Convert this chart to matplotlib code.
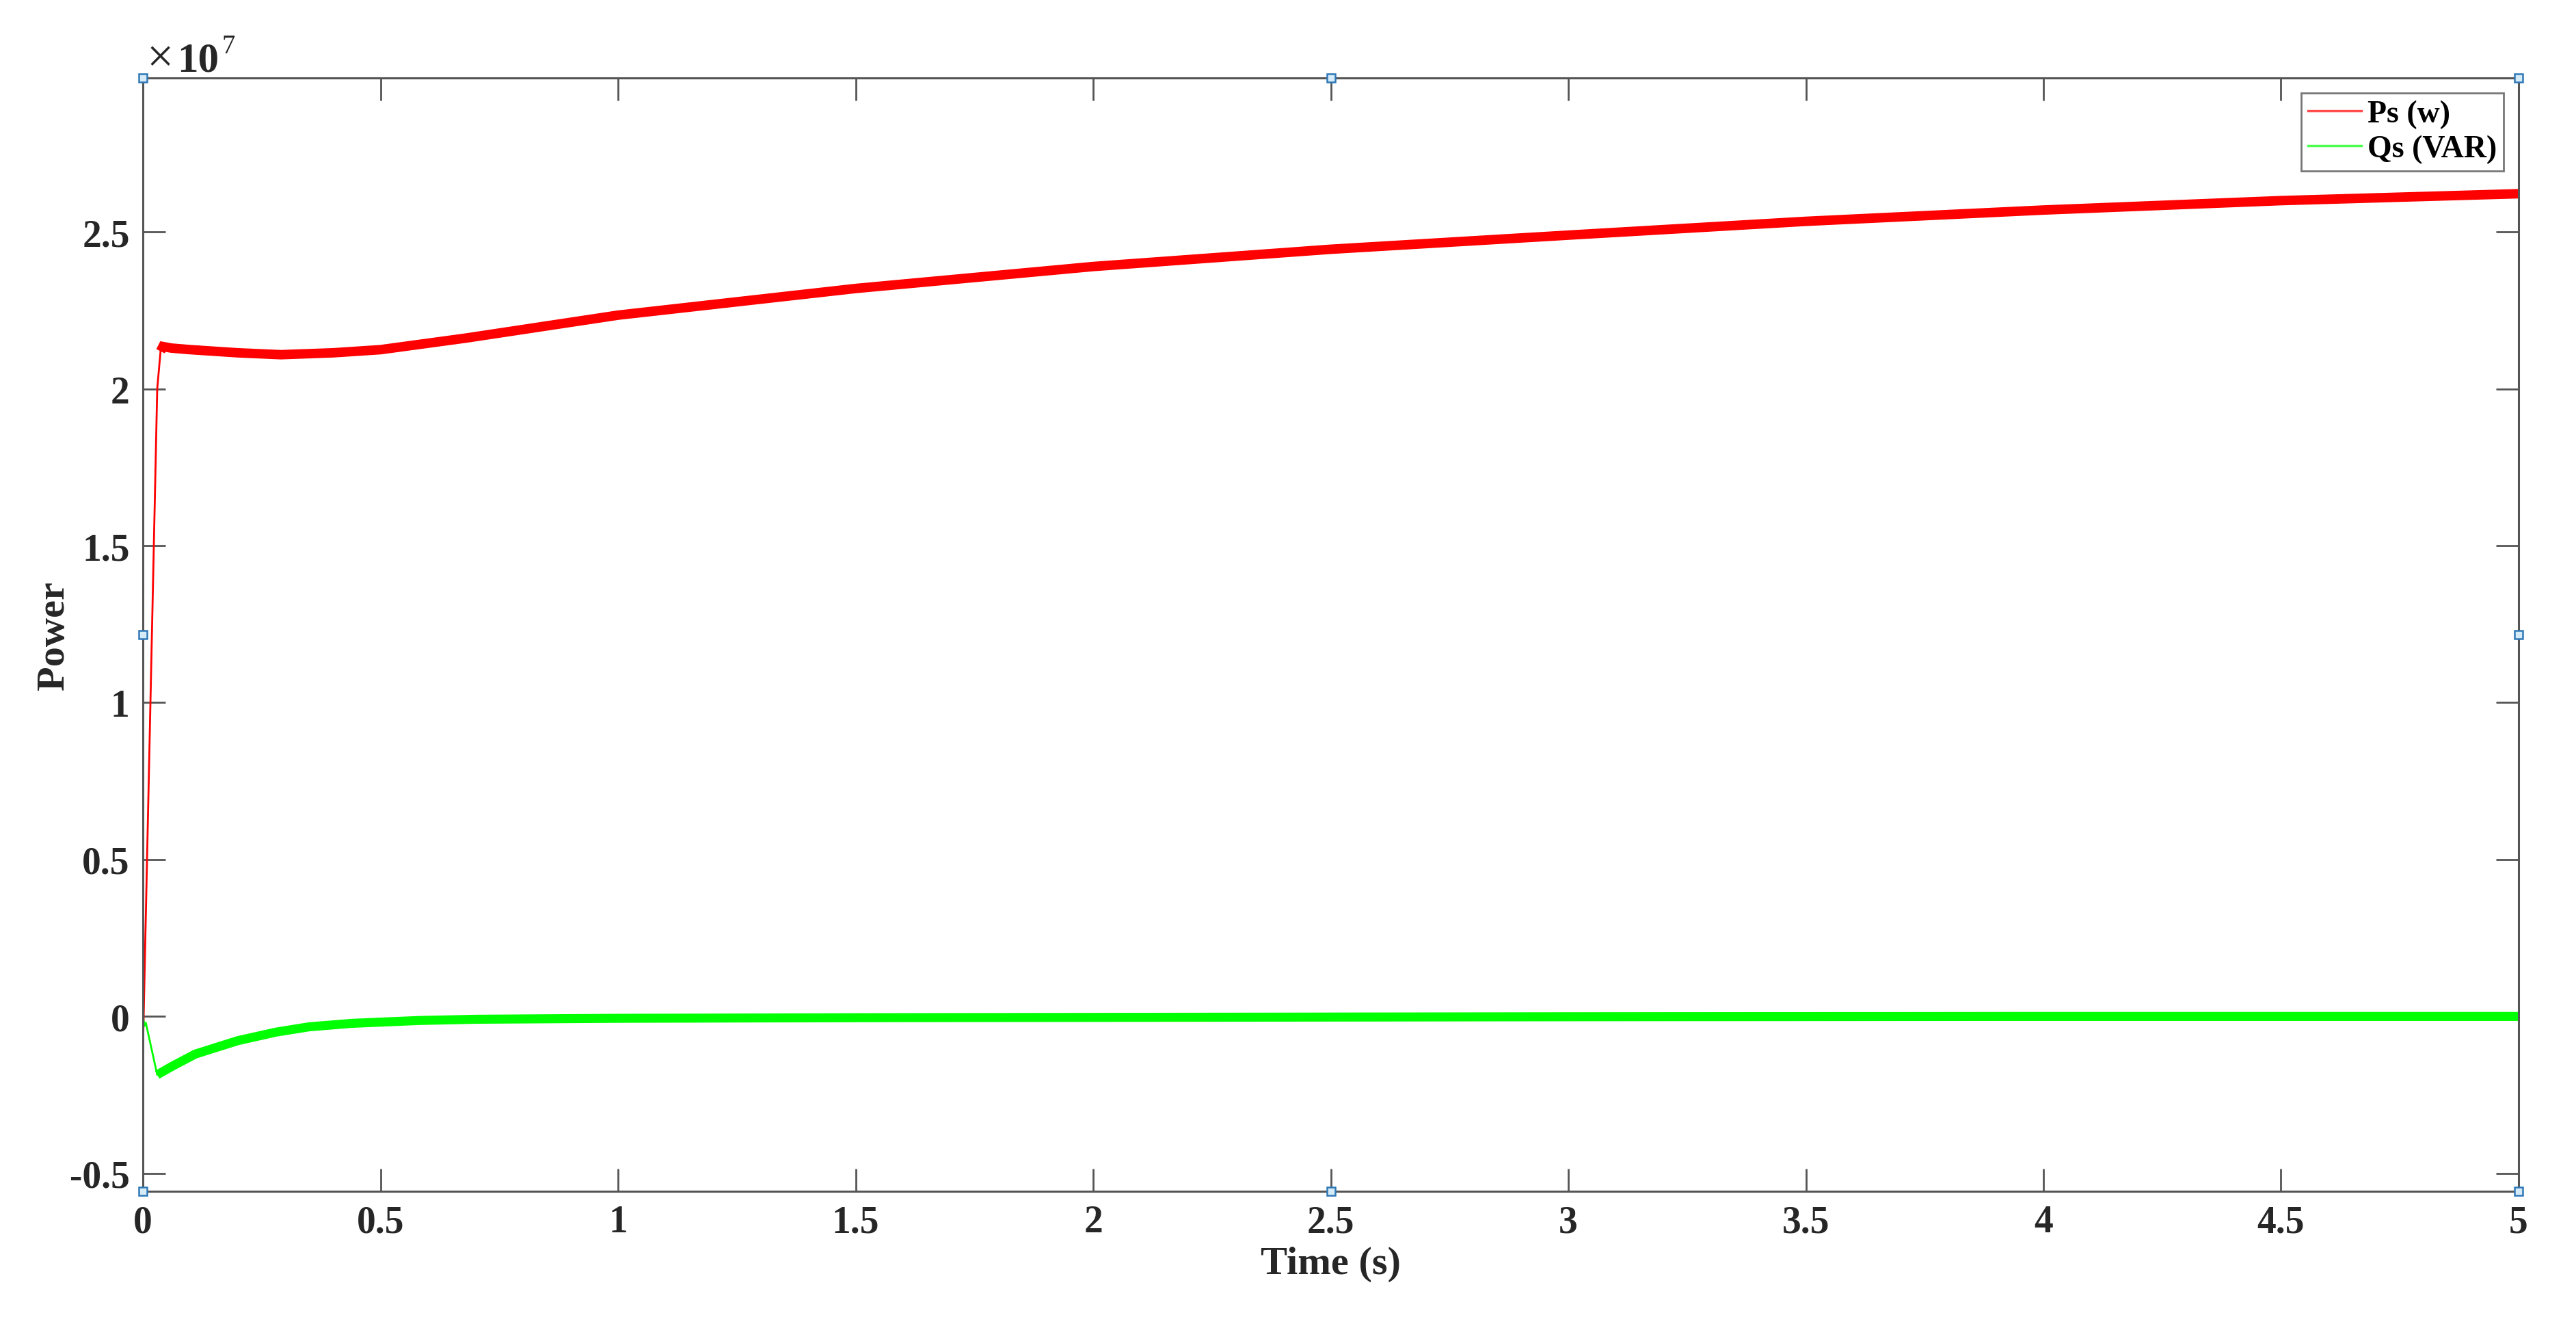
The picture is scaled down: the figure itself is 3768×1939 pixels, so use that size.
import numpy as np
import matplotlib
matplotlib.use("Agg")
import matplotlib.pyplot as plt

plt.rcParams['font.family'] = ['Liberation Serif', 'DejaVu Serif']
plt.rcParams['axes.unicode_minus'] = False

# stator powers, values in units of 1e7
t_ps = [0, 0.03, 0.037, 0.042, 0.06, 0.1, 0.2, 0.29, 0.4, 0.5, 0.68,
        1.0, 1.5, 2.0, 2.5, 3.0, 3.5, 4.0, 4.5, 5.0]
ps = [-0.1, 2.0, 2.12, 2.135, 2.13, 2.125, 2.115, 2.109, 2.115, 2.125, 2.162,
      2.235, 2.32, 2.39, 2.445, 2.49, 2.534, 2.57, 2.60, 2.622]

t_qs = [0, 0.003, 0.006, 0.03, 0.06, 0.11, 0.2, 0.28, 0.35, 0.44, 0.58,
        0.7, 1.0, 1.5, 2.0, 3.0, 4.0, 5.0]
qs = [0.0, -0.03, -0.02, -0.186, -0.16, -0.12, -0.077, -0.05, -0.033, -0.022,
      -0.013, -0.009, -0.006, -0.004, -0.003, -0.001, 0.0, 0.0]

x_ticks = [0, 0.5, 1, 1.5, 2, 2.5, 3, 3.5, 4, 4.5, 5]
y_ticks = [-0.5, 0, 0.5, 1, 1.5, 2, 2.5]
scale = 1e7

red = '#ff0000'
green = '#00ff00'
axcol = '#555555'
txtcol = '#262626'

fig = plt.figure(figsize=(37.68, 19.40), dpi=100)
ax = fig.add_axes([0.0555, 0.1016, 0.9222, 0.8389])

tp = np.array(t_ps)
p = np.array(ps) * scale
tq = np.array(t_qs)
q = np.array(qs) * scale

# thin transient + thick band where the ripple makes the trace wide
ax.plot(tp, p, color=red, lw=2, label='Ps (w)')
ax.plot(tq, q, color=green, lw=2, label='Qs (VAR)')
mp = tp >= 0.037
mq = tq >= 0.03
ax.plot(tp[mp], p[mp], color=red, lw=10, solid_capstyle='butt', solid_joinstyle='miter')
ax.plot(tq[mq], q[mq], color=green, lw=9.5, solid_capstyle='butt', solid_joinstyle='round')

ax.set_xlim(0, 5)
ax.set_ylim(-0.557 * scale, 2.99 * scale)
ax.set_xticks(x_ticks)
ax.set_xticklabels([f'{v:g}' for v in x_ticks])
ax.set_yticks([v * scale for v in y_ticks])
ax.set_yticklabels([f'{v:g}' for v in y_ticks])

ax.tick_params(direction='in', length=24, width=2, color=axcol,
               top=True, right=True, labelsize=40, pad=14)
for lab in ax.get_xticklabels() + ax.get_yticklabels():
    lab.set_fontweight('bold')
    lab.set_color(txtcol)
for s in ax.spines.values():
    s.set_color(axcol)
    s.set_linewidth(2.2)

ax.set_xlabel('Time (s)', fontsize=42, fontweight='bold', color=txtcol, labelpad=6)
ax.set_ylabel('Power', fontsize=42, fontweight='bold', color=txtcol, labelpad=-2)

# exponent label, pieces chained so they never overlap
t_x = ax.text(0.0015, 0.997, '\u00d7', transform=ax.transAxes, fontsize=50,
              ha='left', va='bottom', color=txtcol)
t_10 = ax.annotate('10', xy=(1, 0), xycoords=t_x, xytext=(4, 2), textcoords='offset points',
                   fontsize=44, fontweight='bold', ha='left', va='bottom', color=txtcol)
ax.annotate('7', xy=(1, 1), xycoords=t_10, xytext=(3, 8), textcoords='offset points',
            fontsize=28, ha='left', va='top', color=txtcol)

leg = ax.legend(loc='upper right', bbox_to_anchor=(0.9937, 0.987), borderaxespad=0,
                prop={'weight': 'bold', 'size': 33}, frameon=True, fancybox=False,
                handlelength=1.7, handletextpad=0.2, labelspacing=0.2,
                borderpad=0.22)
leg.get_frame().set_edgecolor(axcol)
leg.get_frame().set_linewidth(2)
for ln in leg.get_lines():
    ln.set_linewidth(2.5)
    ln.set_alpha(0.7)

# edit handles drawn by the figure editor
hx = [0, 0.5, 1, 0, 1, 0, 0.5, 1]
hy = [1, 1, 1, 0.5, 0.5, 0, 0, 0]
ax.plot(hx, hy, ls='none', marker='s', ms=9, mfc='#d6ebf8', mec='#2f78b7', mew=1.8,
        transform=ax.transAxes, clip_on=False, zorder=10)

fig.savefig('out.png', dpi=100, facecolor='white')
